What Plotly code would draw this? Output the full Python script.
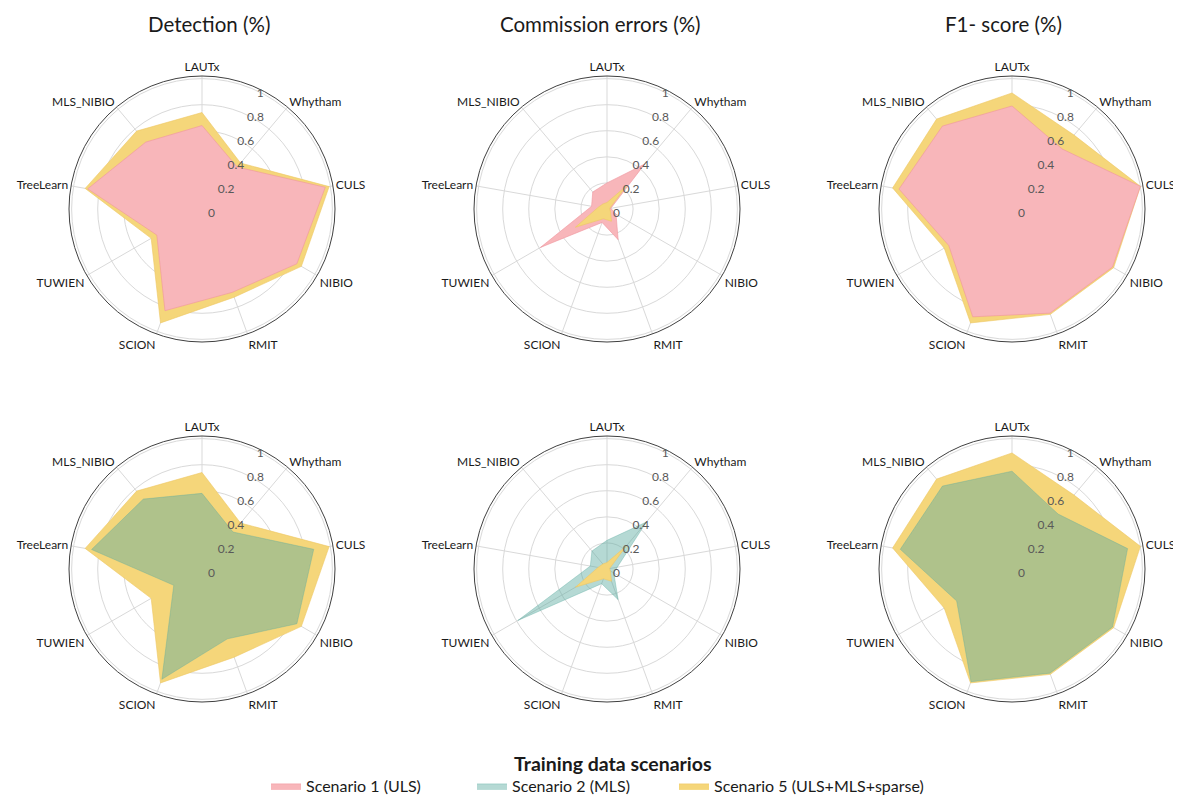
import plotly.graph_objects as go

categories = ["LAUTx", "Whytham", "CULS", "NIBIO", "RMIT", "SCION", "TUWIEN", "TreeLearn", "MLS_NIBIO"]

det_s1 = [0.64, 0.42, 0.96, 0.84, 0.68, 0.83, 0.40, 0.89, 0.67]
det_s2 = [0.58, 0.37, 0.87, 0.84, 0.57, 0.90, 0.25, 0.86, 0.70]
det_s5 = [0.74, 0.46, 0.99, 0.88, 0.72, 0.93, 0.45, 0.91, 0.78]

com_s1 = [0.20, 0.45, 0.03, 0.08, 0.25, 0.11, 0.59, 0.12, 0.17]
com_s2 = [0.22, 0.47, 0.08, 0.06, 0.25, 0.12, 0.79, 0.13, 0.18]
com_s5 = [0.05, 0.23, 0.02, 0.03, 0.10, 0.08, 0.28, 0.07, 0.05]

f1_s1 = [0.79, 0.60, 1.00, 0.89, 0.85, 0.88, 0.56, 0.88, 0.83]
f1_s2 = [0.75, 0.55, 0.90, 0.89, 0.85, 0.92, 0.49, 0.87, 0.83]
f1_s5 = [0.89, 0.74, 1.00, 0.90, 0.86, 0.93, 0.60, 0.93, 0.90]

titles = ["Detection (%)", "Commission errors (%)", "F1- score (%)"]
scen_names = ["Scenario 1 (ULS)", "Scenario 2 (MLS)", "Scenario 5 (ULS+MLS+sparse)"]
legend_title = "Training data scenarios"
radial_ticks = [0, 0.2, 0.4, 0.6, 0.8, 1]
radial_ticktext = ["0", "0.2", "0.4", "0.6", "0.8", "1"]

PINK = "rgb(248,182,186)"
PINK_LINE = "rgb(240,150,158)"
TEAL = "rgba(90,170,160,0.45)"
TEAL_LINE = "rgba(90,170,160,0.6)"
YELLOW = "rgb(245,214,122)"
YELLOW_LINE = "rgb(238,200,100)"

# page body has an 8px margin: work in screen pixels and subtract it
OFF = 8
W, H = 1181 - OFF, 796
FONT = "Lato"

fig = go.Figure()

def closed(v):
    return list(v) + [v[0]]

cats_closed = categories + [categories[0]]

def add(vals, name, color, line, subplot, show, leg):
    fig.add_trace(go.Scatterpolar(
        r=closed(vals), theta=cats_closed, fill="toself", fillcolor=color,
        line=dict(color=line, width=0.6), mode="lines", name=name,
        showlegend=show, legend=leg, subplot=subplot, hoverinfo="skip"))

# top row: scenario 1 vs 5
add(det_s5, scen_names[2], YELLOW, YELLOW_LINE, "polar", True, "legend3")
add(det_s1, scen_names[0], PINK, PINK_LINE, "polar", True, "legend")
add(com_s1, scen_names[0], PINK, PINK_LINE, "polar2", False, "legend")
add(com_s5, scen_names[2], YELLOW, YELLOW_LINE, "polar2", False, "legend3")
add(f1_s5, scen_names[2], YELLOW, YELLOW_LINE, "polar3", False, "legend3")
add(f1_s1, scen_names[0], PINK, PINK_LINE, "polar3", False, "legend")
# bottom row: scenario 2 vs 5
add(det_s5, scen_names[2], YELLOW, YELLOW_LINE, "polar4", False, "legend3")
add(det_s2, scen_names[1], TEAL, TEAL_LINE, "polar4", True, "legend2")
add(com_s2, scen_names[1], TEAL, TEAL_LINE, "polar5", False, "legend2")
add(com_s5, scen_names[2], YELLOW, YELLOW_LINE, "polar5", False, "legend3")
add(f1_s5, scen_names[2], YELLOW, YELLOW_LINE, "polar6", False, "legend3")
add(f1_s2, scen_names[1], TEAL, TEAL_LINE, "polar6", False, "legend2")

centers_x = [202, 607, 1012]
centers_y = [209, 569]
R = 133

def polar_cfg(sx, sy):
    cx, cy = sx - OFF, sy - OFF
    return dict(
        domain=dict(x=[(cx - R) / W, (cx + R) / W],
                    y=[(H - cy - R) / H, (H - cy + R) / H]),
        bgcolor="white",
        radialaxis=dict(range=[0, 1.02], tickvals=radial_ticks, ticktext=radial_ticktext,
                        angle=68, tickangle=68, showline=False, ticks="",
                        gridcolor="#d9d9d9", gridwidth=1,
                        tickfont=dict(size=12, color="#595959", family=FONT)),
        angularaxis=dict(rotation=90, direction="clockwise", ticks="",
                         linecolor="#404040", linewidth=1, gridcolor="#d9d9d9",
                         tickfont=dict(size=12, color="#1a1a1a", family=FONT)),
    )

layout_polars = {}
k = 0
for sy in centers_y:
    for sx in centers_x:
        key = "polar" if k == 0 else f"polar{k + 1}"
        layout_polars[key] = polar_cfg(sx, sy)
        k += 1

title_x = [209, 600, 1003]
annotations = [dict(text=t, x=(tx - OFF) / W, y=1 - (24 - OFF) / H, xref="paper", yref="paper",
                    xanchor="center", yanchor="middle", showarrow=False,
                    font=dict(size=20.5, color="#1a1a1a", family=FONT))
               for t, tx in zip(titles, title_x)]
annotations.append(dict(text="<b>" + legend_title + "</b>", x=(613 - OFF) / W, y=1 - (763 - OFF) / H,
                        xref="paper", yref="paper", xanchor="center", yanchor="middle",
                        showarrow=False, font=dict(size=19.5, color="#1a1a1a", family=FONT)))

def leg(sx):
    return dict(orientation="h", x=(sx - OFF) / W, xanchor="left",
                y=1 - (786 - OFF) / H, yanchor="middle",
                font=dict(size=16, family=FONT, color="#1a1a1a"),
                bgcolor="rgba(0,0,0,0)")

fig.update_layout(
    width=W, height=H,
    margin=dict(l=0, r=0, t=0, b=0),
    paper_bgcolor="white",
    font=dict(family=FONT, color="#1a1a1a"),
    annotations=annotations,
    legend=leg(266),
    legend2=leg(472),
    legend3=leg(674),
    **layout_polars,
)

fig.write_html("out.html")
